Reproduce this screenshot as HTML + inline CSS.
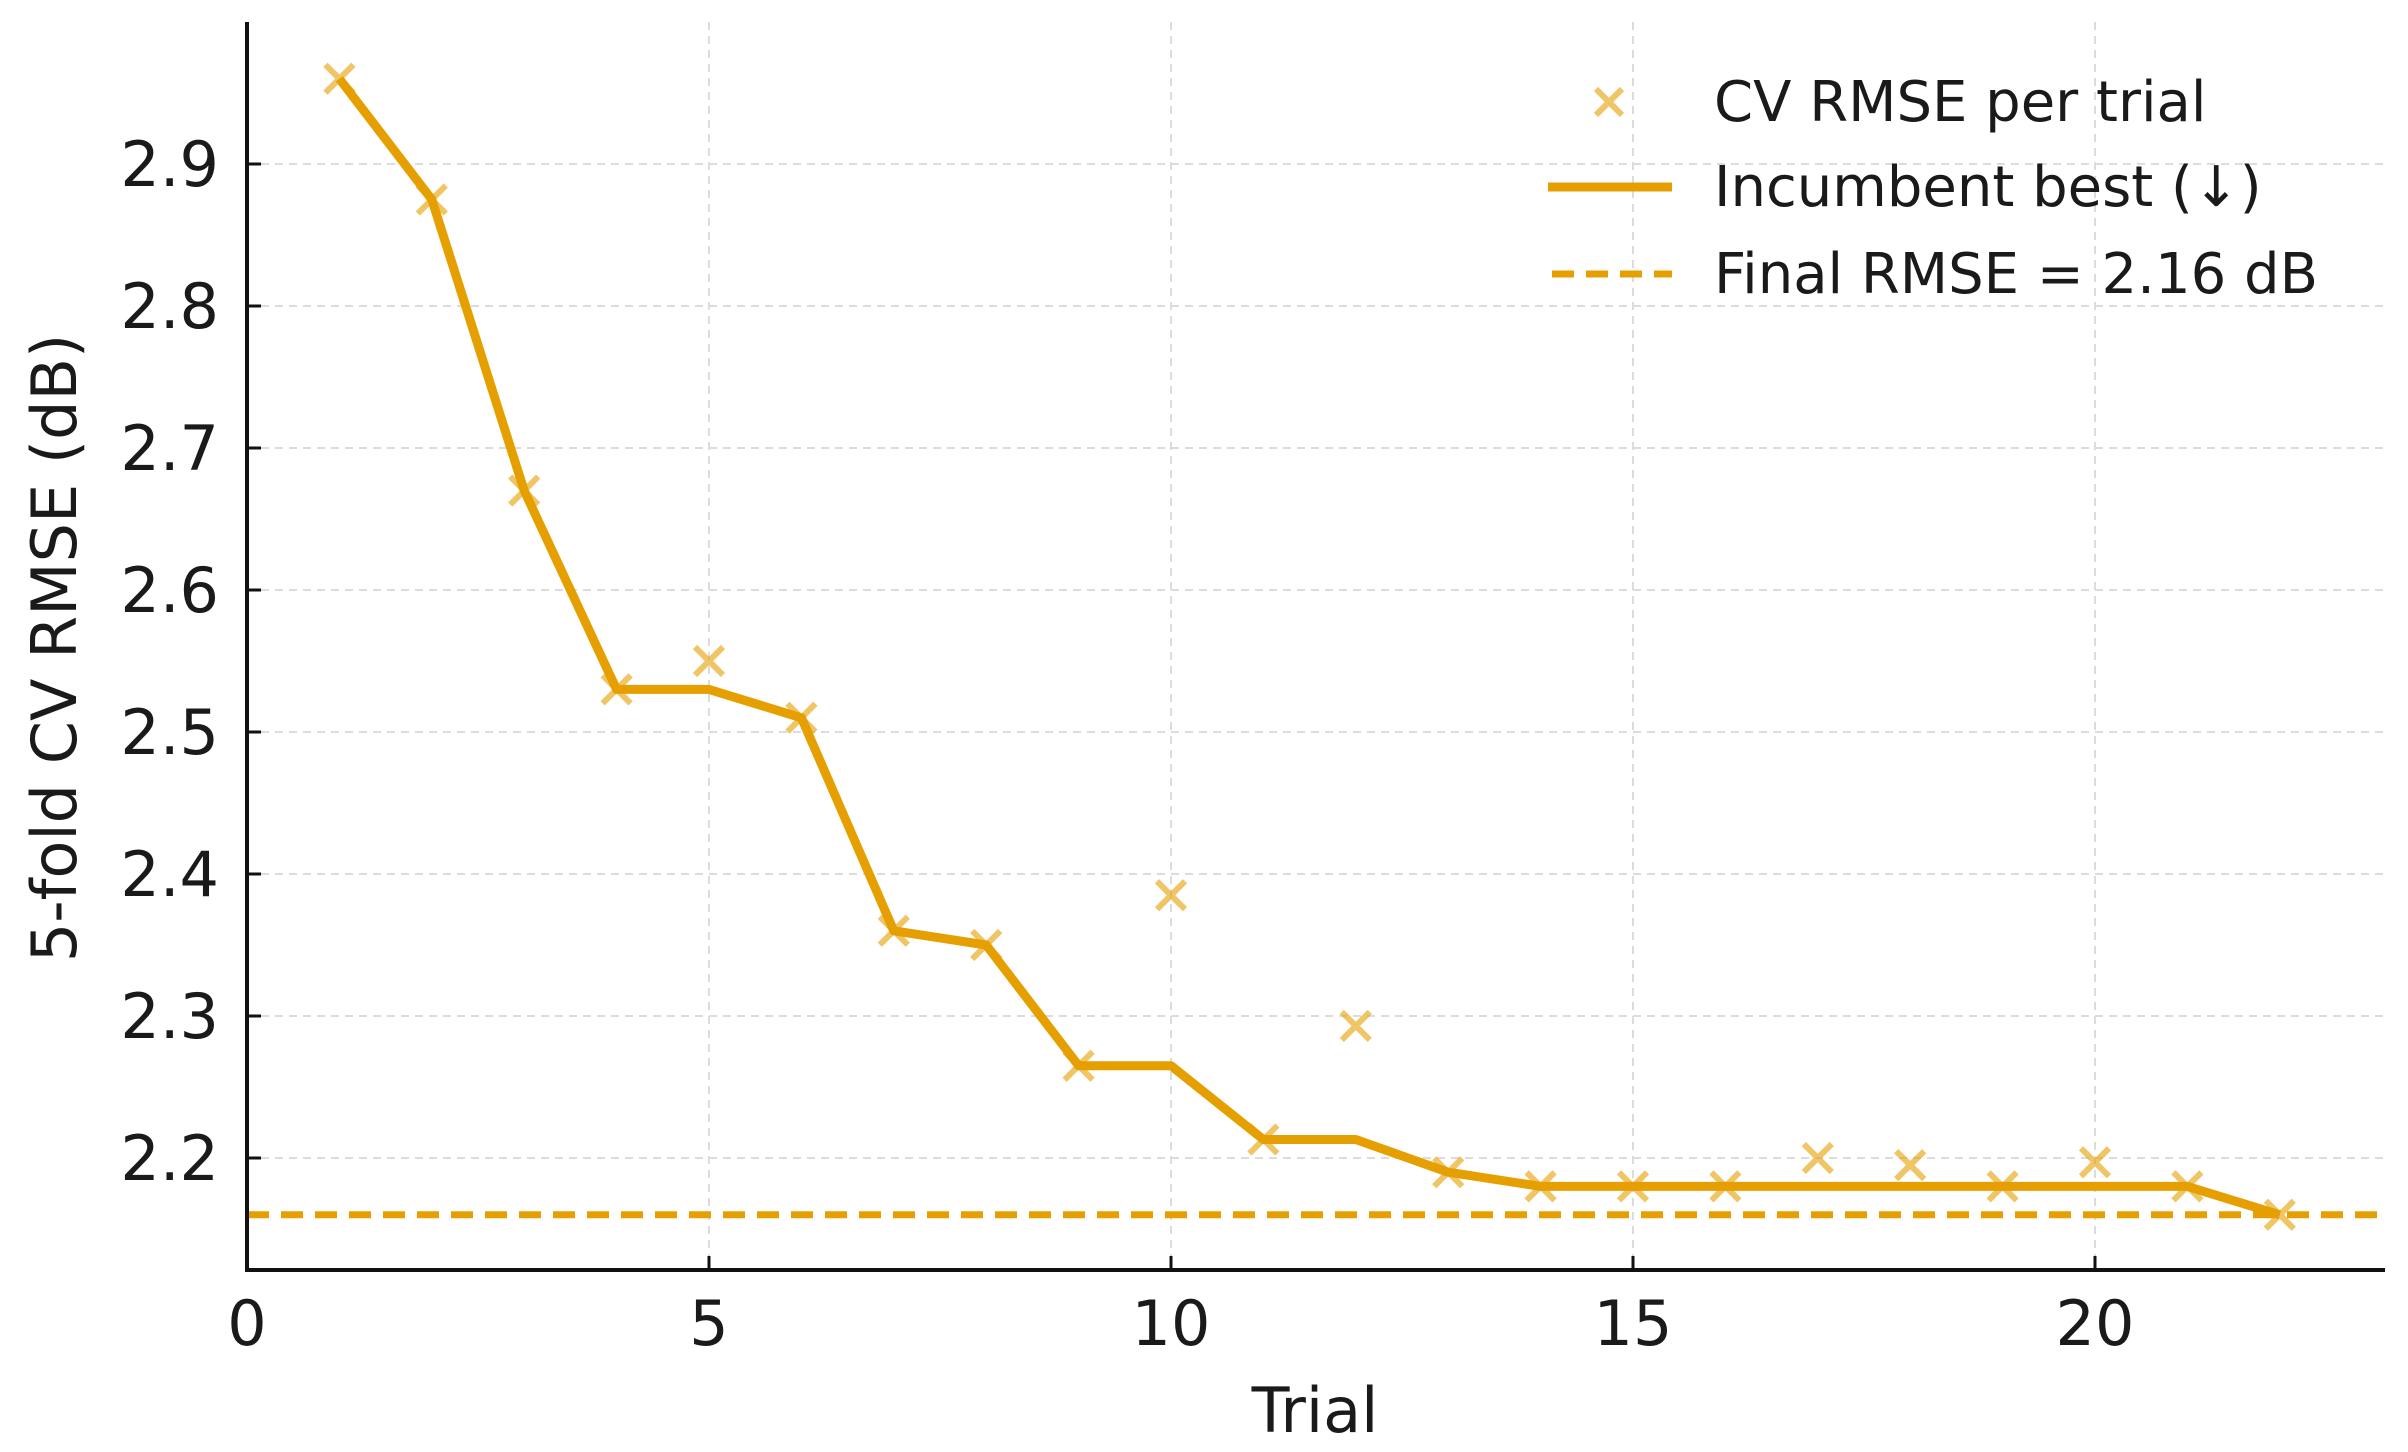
<!DOCTYPE html>
<html><head><meta charset="utf-8"><style>
body{margin:0;background:#fff}
svg{display:block;font-family:"DejaVu Sans","Liberation Sans",sans-serif}
</style></head><body>
<svg id="chart" width="2408" height="1452" viewBox="0 0 2408 1452">
<g id="grid"></g>
<g id="series"></g>
<g id="axes"></g>
<text x="1315" y="1432" font-size="62" text-anchor="middle" fill="#1a1a1a">Trial</text>
<text transform="translate(76,648) rotate(-90)" font-size="62" text-anchor="middle" fill="#1a1a1a">5-fold CV RMSE (dB)</text>
<g>
 <g>
  <path d="M1596,89 L1622,115 M1622,89 L1596,115" stroke="#E69F00" stroke-opacity="0.6" stroke-width="6"/>
  <text x="1714" y="121" font-size="56" fill="#1a1a1a">CV RMSE per trial</text>
 </g>
 <g>
  <line x1="1548" y1="187" x2="1672" y2="187" stroke="#E69F00" stroke-width="9"/>
  <text x="1714" y="206" font-size="56" fill="#1a1a1a">Incumbent best (↓)</text>
 </g>
 <g>
  <line x1="1552" y1="274" x2="1672" y2="274" stroke="#E69F00" stroke-width="7" stroke-dasharray="22,12"/>
  <text x="1714" y="293" font-size="56" fill="#1a1a1a">Final RMSE = 2.16 dB</text>
 </g>
</g>
</svg>
<script>
const trials = [1,2,3,4,5,6,7,8,9,10,11,12,13,14,15,16,17,18,19,20,21,22];
const rmse = [2.96,2.875,2.67,2.53,2.55,2.51,2.36,2.35,2.265,2.385,2.213,2.293,2.19,2.18,2.18,2.18,2.2,2.195,2.18,2.197,2.18,2.16];
const finalRmse = [2.16];
const xTicks = [0,5,10,15,20];
const yTicks = [2.2,2.3,2.4,2.5,2.6,2.7,2.8,2.9];

const NS = "http://www.w3.org/2000/svg";
const X0 = 247, XU = 92.4;
const Y29 = 164, YU = 1420;
const xs = v => X0 + v * XU;
const ys = v => Y29 + (2.9 - v) * YU;
const L = 247, R = 2385, T = 22, B = 1270;
function mk(tag, attrs, parent){
  const e = document.createElementNS(NS, tag);
  for (const k in attrs) e.setAttribute(k, attrs[k]);
  parent.appendChild(e); return e;
}
const grid = document.getElementById('grid');
const axes = document.getElementById('axes');
const series = document.getElementById('series');

yTicks.forEach(v => {
  const y = ys(v);
  const g = mk('line', {x1:L, x2:R, y1:y, y2:y, stroke:'#dcdcdc', 'stroke-width':2, 'stroke-dasharray':'8,6'}, grid);
  
  
  const t = mk('line', {x1:L, x2:L+14, y1:y, y2:y, stroke:'#111', 'stroke-width':3}, axes);
  
  
  const tx = mk('text', {x:219, y:y+22, 'font-size':62, 'text-anchor':'end', fill:'#1a1a1a'}, axes);
  tx.textContent = v.toFixed(1);
  
  
});
xTicks.forEach(v => {
  const x = xs(v);
  const g = mk('line', {x1:x, x2:x, y1:T, y2:B, stroke:'#dcdcdc', 'stroke-width':2, 'stroke-dasharray':'8,6'}, grid);
  
  
  const t = mk('line', {x1:x, x2:x, y1:B, y2:B-14, stroke:'#111', 'stroke-width':3}, axes);
  
  
  const tx = mk('text', {x:x, y:1345, 'font-size':62, 'text-anchor':'middle', fill:'#1a1a1a'}, axes);
  tx.textContent = v;
  
  
});
const ls = mk('line', {x1:L, x2:L, y1:T, y2:B+2, stroke:'#111', 'stroke-width':4}, axes);


const bs = mk('line', {x1:L-2, x2:R, y1:B, y2:B, stroke:'#111', 'stroke-width':4}, axes);



const fl = mk('line', {x1:L, x2:R, y1:ys(finalRmse[0]), y2:ys(finalRmse[0]), stroke:'#E69F00', 'stroke-width':7, 'stroke-dasharray':'22,12'}, series);



trials.forEach((t, i) => {
  const x = xs(t), y = ys(rmse[i]), s = 14;
  const m = mk('path', {d:`M${x-s},${y-s} L${x+s},${y+s} M${x+s},${y-s} L${x-s},${y+s}`, stroke:'#E69F00', 'stroke-opacity':0.6, 'stroke-width':6}, series);
  
  
});

let best = Infinity;
const pts = trials.map((t, i) => { best = Math.min(best, rmse[i]); return xs(t) + ',' + ys(best); });
const pl = mk('polyline', {points:pts.join(' '), fill:'none', stroke:'#E69F00', 'stroke-width':9, 'stroke-linejoin':'round'}, series);


</script>
</body></html>
